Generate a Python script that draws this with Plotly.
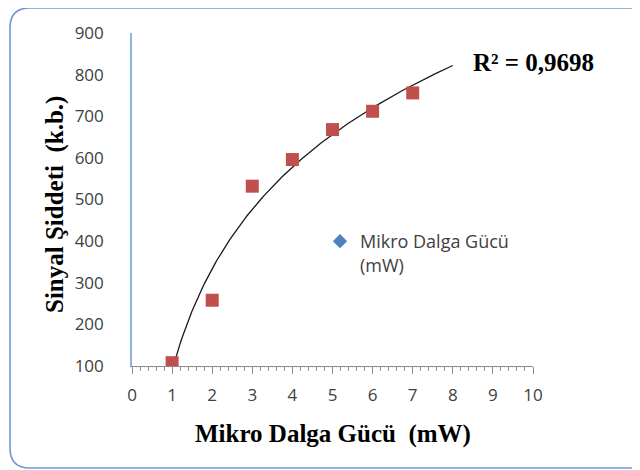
import numpy as np
import plotly.graph_objects as go

# Data
power_mw = [1, 2, 3, 4, 5, 6, 7]
signal_kb = [108, 258, 532, 596, 668, 712, 756]
x_ticks = list(range(0, 11))
y_ticks = list(range(100, 901, 100))
legend_name = "Mikro Dalga Gücü<br>(mW)"
r2_label = "R² = 0,9698"
x_title = "Mikro Dalga Gücü\u00a0\u00a0(mW)"
y_title = "Sinyal Şiddeti\u00a0\u00a0(k.b.)"

# logarithmic trendline fitted to the data (forecast forward 1 unit)
a, b = np.polyfit(np.log(power_mw), signal_kb, 1)
trend_x = np.linspace(min(power_mw), max(power_mw) + 1, 200)
trend_y = a * np.log(trend_x) + b

OFF = 8  # page body margin
W, H = 640 - OFF, 470 - OFF
ML, MT = 132 - OFF, 33 - OFF
PW, PH = 401, 333
MR, MB = W - ML - PW, H - MT - PH


def px(xpx):
    return (xpx - OFF - ML) / PW


def py(ypx):
    return (MT + PH - (ypx - OFF)) / PH


fig = go.Figure()
fig.add_trace(go.Scatter(x=trend_x, y=trend_y, mode="lines",
                         line=dict(color="#1a1a1a", width=1.3),
                         showlegend=False, hoverinfo="skip"))
fig.add_trace(go.Scatter(x=power_mw, y=signal_kb, mode="markers",
                         marker=dict(symbol="square", size=13, color="#C0504D",
                                     line=dict(width=0)),
                         showlegend=False))
fig.add_trace(go.Scatter(x=[None], y=[None], mode="markers", name=legend_name,
                         marker=dict(symbol="diamond", size=11, color="#4F81BD",
                                     line=dict(width=0)),
                         showlegend=True))

# rounded outer frame
x0, y0, x1, y1, r = 10, 8, 662, 468, 20
path = (f"M {px(x0 + r)},{py(y0)} L {px(x1 - r)},{py(y0)} "
        f"Q {px(x1)},{py(y0)} {px(x1)},{py(y0 + r)} L {px(x1)},{py(y1 - r)} "
        f"Q {px(x1)},{py(y1)} {px(x1 - r)},{py(y1)} L {px(x0 + r)},{py(y1)} "
        f"Q {px(x0)},{py(y1)} {px(x0)},{py(y1 - r)} L {px(x0)},{py(y0 + r)} "
        f"Q {px(x0)},{py(y0)} {px(x0 + r)},{py(y0)} Z")

fig.update_layout(
    width=W, height=H,
    margin=dict(l=ML, r=MR, t=MT, b=MB),
    paper_bgcolor="white", plot_bgcolor="white",
    font=dict(family="Open Sans", size=17, color="#404040"),
    shapes=[dict(type="path", xref="paper", yref="paper", path=path,
                 line=dict(color="#6E97CF", width=1.6), layer="below")],
    legend=dict(x=px(320), y=py(223), xanchor="left", yanchor="top",
                valign="top", bgcolor="rgba(0,0,0,0)",
                font=dict(family="Open Sans", size=18, color="#404040")),
    annotations=[
        dict(text=r2_label, xref="paper", yref="paper", x=px(471), y=py(62),
             xanchor="left", yanchor="middle", showarrow=False,
             font=dict(family="Liberation Serif", size=25, color="black", weight="bold")),
        dict(text=x_title, xref="paper", yref="paper", x=px(333), y=py(434),
             xanchor="center", yanchor="middle", showarrow=False,
             font=dict(family="Liberation Serif", size=25, color="black", weight="bold")),
        dict(text=y_title, xref="paper", yref="paper", x=px(55), y=py(205),
             xanchor="center", yanchor="middle", showarrow=False, textangle=-90,
             font=dict(family="Liberation Serif", size=25, color="black", weight="bold")),
    ],
)
fig.update_xaxes(range=[0, 10], tickvals=x_ticks, ticktext=[str(v) for v in x_ticks],
                 showgrid=False, zeroline=False,
                 showline=True, linecolor="#8C8C8C", linewidth=1,
                 ticks="outside", ticklen=7, tickcolor="#8C8C8C", tickwidth=1,
                 minor=dict(dtick=0.2, ticks="outside", ticklen=4,
                            tickcolor="#8C8C8C", tickwidth=1, showgrid=False),
                 ticklabelstandoff=7,
                 tickfont=dict(family="Open Sans", size=17, color="#404040"))
fig.update_yaxes(range=[100, 900], tickvals=y_ticks, ticktext=[str(v) for v in y_ticks],
                 showgrid=False, zeroline=False,
                 showline=True, linecolor="#8EB4E3", linewidth=1.6,
                 ticks="", ticklabelstandoff=23,
                 tickfont=dict(family="Open Sans", size=17, color="#404040"))

fig.write_html("out.html")
